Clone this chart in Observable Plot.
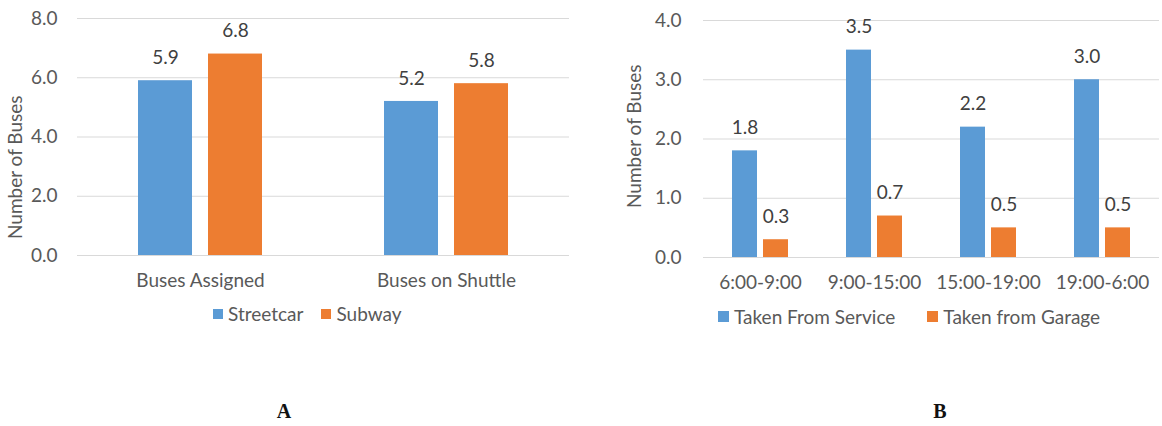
<!DOCTYPE html>
<html>
<head>
<meta charset="utf-8">
<script src="https://cdn.jsdelivr.net/npm/d3@7"></script>
<script src="https://cdn.jsdelivr.net/npm/@observablehq/plot@0.6"></script>
<style>
  html, body { margin: 0; padding: 0; background: #fff; }
  #page { position: relative; width: 1162px; height: 426px; overflow: hidden; background: #fff; }
  .panel { position: absolute; top: 0; }
  .leg { position: absolute; }
  .leg .lg-swatches { font-family: Lato, sans-serif; font-size: 19px; color: #595959; margin: 0; min-height: 0; }
  .leg .lg-swatch > svg { margin-right: 5px; }
  #legA .lg-swatch { margin-right: 18px; }
  #legB .lg-swatch { margin-right: 32px; }
  .tag { position: absolute; font-family: "Liberation Serif", "Times New Roman", serif; font-weight: bold; font-size: 20px; color: #111; transform: translate(-50%, -50%); }
</style>
</head>
<body>
<div id="page">
  <div class="panel" id="panelA" style="left:0px;"></div>
  <div class="panel" id="panelB" style="left:580px;"></div>
  <div class="leg" id="legA" style="left:0px; top:302px;"></div>
  <div class="leg" id="legB" style="left:580px; top:305px;"></div>
  <div class="tag" style="left:284px; top:411px;">A</div>
  <div class="tag" style="left:940px; top:411px;">B</div>
</div>
<script>
// Panel A: buses assigned vs. buses on shuttle, by mode
const groupsA = ["Buses Assigned", "Buses on Shuttle"];
const seriesA = ["Streetcar", "Subway"];
const streetcarValues = [5.9, 5.2];
const subwayValues = [6.8, 5.8];
const ticksA = [0, 2, 4, 6, 8];

// Panel B: buses taken from service vs. from garage, by time period
const groupsB = ["6:00-9:00", "9:00-15:00", "15:00-19:00", "19:00-6:00"];
const seriesB = ["Taken From Service", "Taken from Garage"];
const fromServiceValues = [1.8, 3.5, 2.2, 3.0];
const fromGarageValues = [0.3, 0.7, 0.5, 0.5];
const ticksB = [0, 1, 2, 3, 4];

const yTitle = "Number of Buses";
const palette = ["#5B9BD5", "#ED7D31"];

function toRows(groups, series, columns) {
  const rows = [];
  groups.forEach((g, i) => {
    series.forEach((s, j) => rows.push({group: g, series: s, value: columns[j][i]}));
  });
  return rows;
}

const rowsA = toRows(groupsA, seriesA, [streetcarValues, subwayValues]);
const rowsB = toRows(groupsB, seriesB, [fromServiceValues, fromGarageValues]);

function groupedBars({groups, series, rows, ticks, width, marginLeft, marginRight, marginTop, marginBottom,
                      tickPadding, paddingInner, paddingOuter, titleDx, titleDy}) {
  return Plot.plot({
    width,
    height: 300,
    marginLeft, marginRight, marginTop, marginBottom,
    style: {fontFamily: "Lato, sans-serif", fontSize: "19px", color: "#595959", background: "#fff", overflow: "visible"},
    fx: {domain: groups, padding: 0, label: null, tickSize: 0, tickPadding: 18},
    x: {domain: series, axis: null, paddingInner, paddingOuter},
    y: {domain: [ticks[0], ticks[ticks.length - 1]], ticks, tickFormat: d3.format(".1f"),
        tickSize: 0, tickPadding, label: null},
    color: {domain: series, range: palette},
    marks: [
      Plot.ruleY(ticks, {stroke: "#d9d9d9", strokeWidth: 1}),
      Plot.barY(rows, {fx: "group", x: "series", y: "value", fill: "series"}),
      Plot.text(rows, {fx: "group", x: "series", y: "value", text: d => d.value.toFixed(1),
                       dy: -23, fill: "#404040", fontSize: 19}),
      // axis title, drawn once in the leftmost facet
      Plot.text([groups[0]], {fx: d => d, text: () => yTitle, frameAnchor: "left", rotate: -90,
                              dx: titleDx, dy: titleDy, fill: "#595959", fontSize: 19})
    ]
  });
}

const plotA = groupedBars({
  groups: groupsA, series: seriesA, rows: rowsA, ticks: ticksA,
  width: 580, marginLeft: 77, marginRight: 11, marginTop: 18, marginBottom: 45,
  tickPadding: 20, paddingInner: 0.229, paddingOuter: 0.871, titleDx: -62, titleDy: 102
});
const plotB = groupedBars({
  groups: groupsB, series: seriesB, rows: rowsB, ticks: ticksB,
  width: 582, marginLeft: 122, marginRight: 3, marginTop: 20, marginBottom: 43,
  tickPadding: 22, paddingInner: 0.19, paddingOuter: 0.88, titleDx: -69, titleDy: 69
});

document.getElementById("panelA").append(plotA);
document.getElementById("panelB").append(plotB);

document.getElementById("legA").append(plotA.legend("color", {className: "lg", swatchSize: 10, marginLeft: 213}));
document.getElementById("legB").append(plotB.legend("color", {className: "lg", swatchSize: 11, marginLeft: 138}));
</script>
</body>
</html>
